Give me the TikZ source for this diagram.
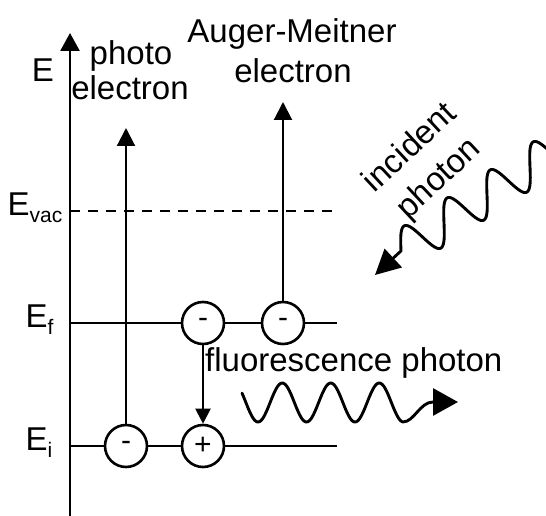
\documentclass[tikz,border=0pt]{standalone}
\usepackage{fontspec}
\setmainfont{Liberation Sans}
\usetikzlibrary{arrows.meta}
\begin{document}
\begin{tikzpicture}[x=1pt,y=-1pt,
  big/.style={font=\fontsize{33}{42}\selectfont, inner sep=0pt},
  lbl/.style={big, anchor=base},
  circ/.style={draw, circle, line width=2.6pt, minimum size=42pt, inner sep=0pt, font=\fontsize{30}{30}\selectfont},
  levelline/.style={line width=2.1pt},
  upline/.style={line width=2.1pt, -{Triangle[length=18pt,width=18pt]}},
  wave/.style={line width=2.9pt, line cap=round, line join=round}
]
\useasboundingbox (0,0) rectangle (546,516);
% axis
\coordinate (axB) at (70,516);
\coordinate (axT) at (70,33);
\draw[line width=2.7pt, -{Triangle[length=18pt,width=19pt]}] (axB) -- (axT);
% labels
\node[lbl] (E) at (43,82) {E};
\node[lbl, anchor=base west] (Evac) at (7.5,215) {E\raisebox{-7pt}{\fontsize{21}{21}\selectfont vac}};
\node[lbl, anchor=base west] (Ef) at (25.5,327) {E\raisebox{-7pt}{\fontsize{21}{21}\selectfont f}};
\node[lbl, anchor=base west] (Ei) at (25.5,450) {E\raisebox{-7pt}{\fontsize{21}{21}\selectfont i}};
\node[lbl] (ph1) at (131,65) {photo};
\node[lbl] (ph2) at (130,100) {electron};
\node[lbl] (am1) at (292,43) {Auger-Meitner};
\node[lbl] (am2) at (293,83) {electron};
\node[lbl, anchor=base west] (fl) at (205,371) {fluorescence photon};
\node[big, rotate=43, align=center] (inc) at (425,164) {incident\\photon};
% vacuum level
\coordinate (evL) at (70,211);
\coordinate (evR) at (338,211);
\draw[levelline, dash pattern=on 10pt off 8pt] (evL) -- (evR);
% electrons
\node[circ] (ef1) at (203,323) {-};
\node[circ] (ef2) at (283,323) {-};
\node[circ] (ei1) at (126,446) {-};
\node[circ] (ei2) at (203,446) {+};
\coordinate (efL) at (70,323);
\coordinate (efR) at (337,323);
\coordinate (eiL) at (70,446);
\coordinate (eiR) at (337,446);
\draw[levelline] (efL) -- (ef1) -- (ef2) -- (efR);
\draw[levelline] (eiL) -- (ei1) -- (ei2) -- (eiR);
% photoelectron and Auger arrows
\coordinate (phT) at (126,128);
\coordinate (amT) at (283,102);
\draw[upline] (ei1) -- (phT);
\draw[upline] (ef2) -- (amT);
\draw[line width=2.1pt, -{Triangle[length=15pt,width=15pt]}] (ef1) -- (ei2);
% fluorescence photon wave
\coordinate (flTip) at (458,402);
\draw[wave, -{Triangle[length=25pt,width=27pt]}]
  plot[domain=242:403, samples=150] (\x, {402.5 + 19.5*cos((\x-258)*7.4227)})
  .. controls (414,422) and (420,402) .. (433,402) -- (flTip);
% incident photon wave
\coordinate (incTip) at (375,275);
\draw[wave, -{Triangle[length=25pt,width=25pt]}]
  plot[domain=-3*pi:4*pi, samples=250, variable=\t]
    ({487 - 6.844*\t + 7.75*sin(\t r)}, {195 + 4.456*\t + 18*sin(\t r)})
  -- (incTip);
\end{tikzpicture}
\end{document}
